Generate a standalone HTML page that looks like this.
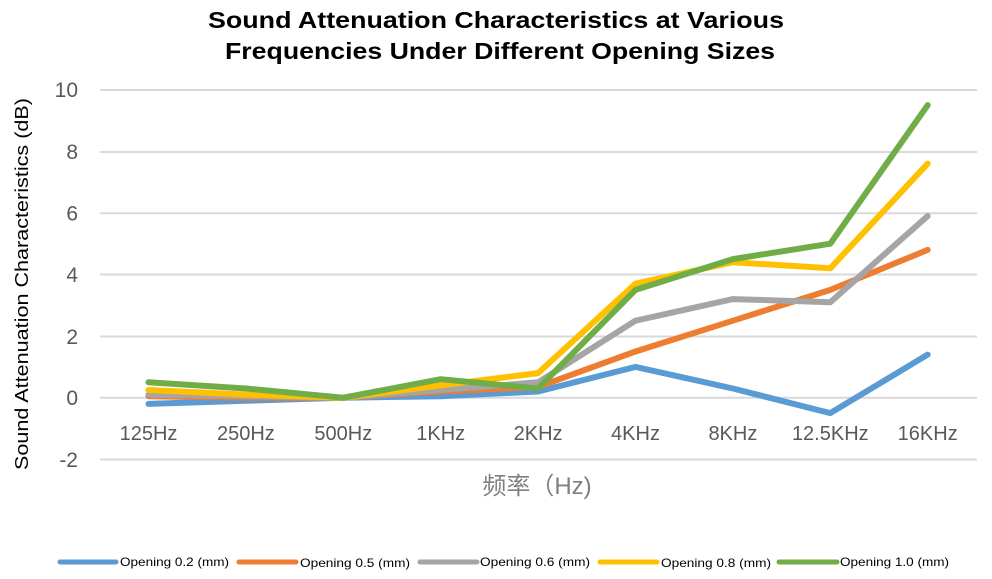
<!DOCTYPE html>
<html><head><meta charset="utf-8"><style>
html,body{margin:0;padding:0;background:#fff;}
svg{display:block;}
</style></head><body>
<svg width="992" height="579" viewBox="0 0 992 579" xmlns="http://www.w3.org/2000/svg">
<rect width="992" height="579" fill="#fff"/>
<g font-family="'Liberation Sans', sans-serif" font-weight="bold" font-size="23" fill="#000" text-anchor="middle">
<text x="496" y="28" textLength="576" lengthAdjust="spacingAndGlyphs">Sound Attenuation Characteristics at Various</text>
<text x="500" y="59" textLength="550" lengthAdjust="spacingAndGlyphs">Frequencies Under Different Opening Sizes</text>
</g>
<g stroke="#d9d9d9" stroke-width="2">
<line x1="100" y1="90" x2="977" y2="90"/>
<line x1="100" y1="152" x2="977" y2="152"/>
<line x1="100" y1="213.3" x2="977" y2="213.3"/>
<line x1="100" y1="274.5" x2="977" y2="274.5"/>
<line x1="100" y1="336.5" x2="977" y2="336.5"/>
<line x1="100" y1="397.7" x2="977" y2="397.7"/>
<line x1="100" y1="459.5" x2="977" y2="459.5"/>
</g>
<g font-family="'Liberation Sans', sans-serif" font-size="21" fill="#595959" text-anchor="end">
<text x="78" y="97">10</text>
<text x="78" y="159">8</text>
<text x="78" y="220.5">6</text>
<text x="78" y="282">4</text>
<text x="78" y="344">2</text>
<text x="78" y="405">0</text>
<text x="78" y="467">-2</text>
</g>
<g font-family="'Liberation Sans', sans-serif" font-size="20" fill="#595959" text-anchor="middle">
<text x="148.5" y="440">125Hz</text>
<text x="245.9" y="440">250Hz</text>
<text x="343.3" y="440">500Hz</text>
<text x="440.7" y="440">1KHz</text>
<text x="538.1" y="440">2KHz</text>
<text x="635.5" y="440">4KHz</text>
<text x="732.9" y="440">8KHz</text>
<text x="830.3" y="440">12.5KHz</text>
<text x="927.7" y="440">16KHz</text>
</g>
<text x="537" y="494" font-family="'Liberation Sans','Noto Sans CJK SC',sans-serif" font-size="24" fill="#7f7f7f" text-anchor="middle">频率（Hz)</text>
<text transform="translate(28,284) rotate(-90)" font-family="'Liberation Sans', sans-serif" font-size="18" fill="#000" text-anchor="middle" textLength="372" lengthAdjust="spacingAndGlyphs">Sound Attenuation Characteristics (dB)</text>
<g fill="none" stroke-width="6" stroke-linejoin="round" stroke-linecap="round">
<polyline stroke="#5B9BD5" points="148.5,403.9 245.9,400.8 343.3,397.7 440.7,396.2 538.1,391.5 635.5,366.9 732.9,388.5 830.3,413.1 927.7,354.6"/>
<polyline stroke="#ED7D31" points="148.5,396.2 245.9,397.7 343.3,397.7 440.7,391.5 538.1,386.9 635.5,351.5 732.9,320.7 830.3,289.9 927.7,249.9"/>
<polyline stroke="#A5A5A5" points="148.5,394.6 245.9,396.2 343.3,397.7 440.7,390 538.1,382.3 635.5,320.7 732.9,299.1 830.3,302.2 927.7,216"/>
<polyline stroke="#FFC000" points="148.5,390 245.9,394.6 343.3,397.7 440.7,385.4 538.1,373.1 635.5,283.7 732.9,262.2 830.3,268.3 927.7,163.6"/>
<polyline stroke="#70AD47" points="148.5,382.3 245.9,388.5 343.3,397.7 440.7,379.2 538.1,388.5 635.5,289.9 732.9,259.1 830.3,243.7 927.7,105.1"/>
</g>
<g stroke-width="5" stroke-linecap="round">
<line x1="60" y1="562" x2="116" y2="562" stroke="#5B9BD5"/>
<line x1="239" y1="562" x2="296" y2="562" stroke="#ED7D31"/>
<line x1="420" y1="562" x2="477" y2="562" stroke="#A5A5A5"/>
<line x1="600" y1="562" x2="657" y2="562" stroke="#FFC000"/>
<line x1="779" y1="562" x2="837" y2="562" stroke="#70AD47"/>
</g>
<g font-family="'Liberation Sans', sans-serif" font-size="12" fill="#000">
<text x="120" y="566" textLength="109" lengthAdjust="spacingAndGlyphs">Opening 0.2 (mm)</text>
<text x="300" y="567" textLength="110" lengthAdjust="spacingAndGlyphs">Opening 0.5 (mm)</text>
<text x="480" y="566" textLength="110" lengthAdjust="spacingAndGlyphs">Opening 0.6 (mm)</text>
<text x="661" y="567" textLength="110" lengthAdjust="spacingAndGlyphs">Opening 0.8 (mm)</text>
<text x="840" y="566" textLength="109" lengthAdjust="spacingAndGlyphs">Opening 1.0 (mm)</text>
</g>
</svg>
</body></html>
